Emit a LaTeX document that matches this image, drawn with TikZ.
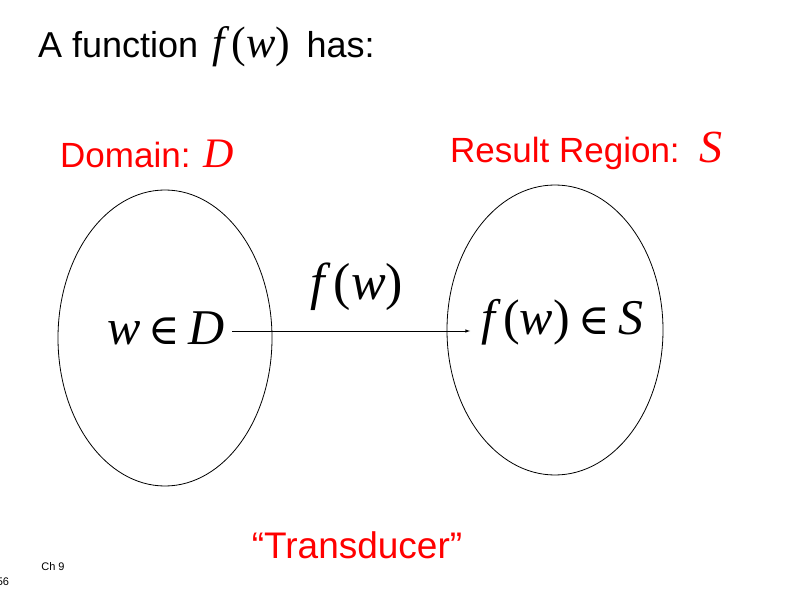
\documentclass[tikz,border=0pt]{standalone}
\usepackage{fontspec}
\setmainfont{Liberation Sans}
\newfontfamily\tms{Liberation Serif}
\newfontfamily\dvs{DejaVu Serif}
\newcommand{\mi}[1]{{\tms\itshape #1}}
\newcommand{\mr}[1]{{\tms #1}}
\newcommand{\elt}{{\dvs\scalebox{0.85}{∈}}}
\begin{document}
\begin{tikzpicture}[x=1pt,y=-1pt,
  lbl/.style={inner sep=0pt,anchor=base west},
  red/.style={text={rgb,255:red,255;green,0;blue,0}}]
\useasboundingbox (0,0) rectangle (804,596);
\fill[white] (0,0) rectangle (804,596);
\node[lbl,font=\fontsize{36}{38}\selectfont] (title) at (38,58) {A function\hspace{14pt}{\fontsize{44}{48}\selectfont\mi{f}\,\mr{(}\mi{w}\mr{)}}\hspace{16pt}has:};
\node[lbl,red,font=\fontsize{35}{36}\selectfont] (dom) at (60,168) {Domain: {\fontsize{42}{46}\selectfont\mi{D}}};
\node[lbl,red,font=\fontsize{35}{36}\selectfont] (res) at (450,163) {Result Region:\ \ {\fontsize{46}{48}\selectfont\mi{S}}};
\draw[line width=0.8pt] (165,338) ellipse [x radius=107, y radius=148];
\draw[line width=0.8pt] (555,330) ellipse [x radius=108, y radius=145];
\node[font=\fontsize{50}{52}\selectfont,inner sep=2pt] (w) at (166,328) {\mi{w}\,\elt\,\mi{D}};
\node[font=\fontsize{50}{52}\selectfont,inner sep=2pt] (fw) at (562,322) {\mi{f}\,\mr{(}\mi{w}\mr{)}\,\elt\,\mi{S}};
\node[font=\fontsize{52}{54}\selectfont] (flab) at (357,287) {\mi{f}\,\mr{(}\mi{w}\mr{)}};
\coordinate (a1) at (232,331);
\coordinate (a2) at (470,331);
\draw[-latex,line width=0.6pt] (a1) -- (a2);
\node[red,font=\fontsize{37}{38}\selectfont] (tr) at (357,545) {“Transducer”};
\node[font=\fontsize{11}{12}\selectfont] (ch) at (53,567) {Ch 9};
\node[font=\fontsize{11}{12}\selectfont] (pg) at (3,582) {56};
\end{tikzpicture}
\end{document}
